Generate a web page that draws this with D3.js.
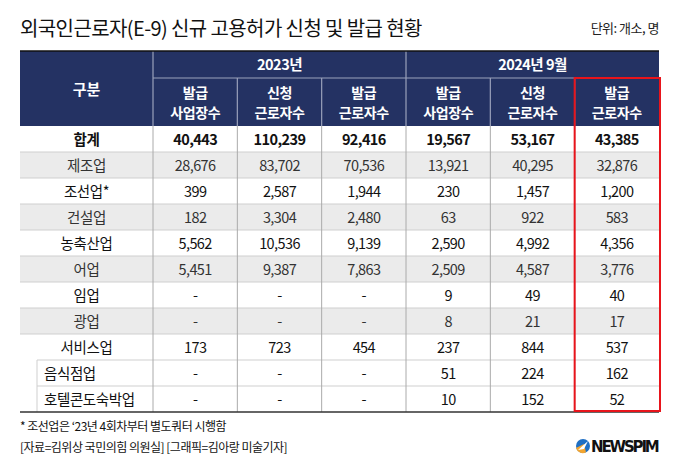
<!DOCTYPE html>
<html><head><meta charset="utf-8">
<script src="https://cdn.jsdelivr.net/npm/d3@7"></script>
<style>
html,body{margin:0;padding:0;background:#fff;}
svg{display:block;font-family:"Noto Sans CJK KR","Noto Sans",sans-serif;}
</style></head>
<body>
<svg id="c" width="680" height="472"></svg>
<script>
const title = "외국인근로자(E-9) 신규 고용허가 신청 및 발급 현황";
const unitLabel = "단위: 개소, 명";
const years = ["2023년", "2024년 9월"];
const subHeaders = [["발급","사업장수"],["신청","근로자수"],["발급","근로자수"],["발급","사업장수"],["신청","근로자수"],["발급","근로자수"]];
const categories = ["합계","제조업","조선업*","건설업","농축산업","어업","임업","광업","서비스업","음식점업","호텔콘도숙박업"];
const issuedSites2023   = [40443, 28676, 399, 182, 5562, 5451, null, null, 173, null, null];
const appliedWorkers2023= [110239, 83702, 2587, 3304, 10536, 9387, null, null, 723, null, null];
const issuedWorkers2023 = [92416, 70536, 1944, 2480, 9139, 7863, null, null, 454, null, null];
const issuedSites2024   = [19567, 13921, 230, 63, 2590, 2509, 9, 8, 237, 51, 10];
const appliedWorkers2024= [53167, 40295, 1457, 922, 4992, 4587, 49, 21, 844, 224, 152];
const issuedWorkers2024 = [43385, 32876, 1200, 583, 4356, 3776, 40, 17, 537, 162, 52];
const subRows = ["음식점업","호텔콘도숙박업"];
const footnotes = ["* 조선업은 ‘23년 4회차부터 별도쿼터 시행함","[자료=김위상 국민의힘 의원실] [그래픽=김아랑 미술기자]"];

const series = [issuedSites2023, appliedWorkers2023, issuedWorkers2023, issuedSites2024, appliedWorkers2024, issuedWorkers2024];
const svg = d3.select("#c");
const navy = "#243263";
const fmt = d3.format(",");

const left = 20, right = 659, firstColR = 153;
const x = d3.scaleLinear().domain([0, series.length]).range([firstColR, right]);
const y = d3.scaleBand().domain(categories).range([126, 412]);

// title
svg.append("text").attr("x", left).attr("y", 36).attr("font-size", 20).attr("fill", "#111").attr("letter-spacing", -0.6).text(title);
svg.append("text").attr("x", right).attr("y", 33).attr("text-anchor","end").attr("font-size", 13).attr("fill", "#222").attr("letter-spacing", -0.5).text(unitLabel);

// header background
svg.append("rect").attr("x", left).attr("y", 51).attr("width", right-left).attr("height", 126-51).attr("fill", navy);
const yearBottom = 78;
// header lines
svg.append("line").attr("x1", firstColR).attr("x2", right).attr("y1", yearBottom).attr("y2", yearBottom).attr("stroke", "#9aa1bb").attr("stroke-width", 1.2);
svg.append("line").attr("x1", firstColR).attr("x2", firstColR).attr("y1", 51).attr("y2", 126).attr("stroke", "#9aa1bb").attr("stroke-width", 1.2);
svg.append("line").attr("x1", x(3)).attr("x2", x(3)).attr("y1", 51).attr("y2", 126).attr("stroke", "#9aa1bb").attr("stroke-width", 1.2);
[1,2,4,5].forEach(i => svg.append("line").attr("x1", x(i)).attr("x2", x(i)).attr("y1", yearBottom).attr("y2", 126).attr("stroke", "#9aa1bb").attr("stroke-width", 1.2));
svg.append("line").attr("x1", left).attr("x2", right).attr("y1", 51).attr("y2", 51).attr("stroke", "#111").attr("stroke-width", 1.5);

// header texts
svg.append("text").attr("x", (left+firstColR)/2).attr("y", 95).attr("text-anchor","middle").attr("font-size", 15).attr("font-weight", 700).attr("fill", "#fff").text("구분");
years.forEach((yr, i) => {
  svg.append("text").attr("x", (x(i*3)+x(i*3+3))/2).attr("y", 70).attr("text-anchor","middle").attr("font-size", 14.5).attr("font-weight", 700).attr("fill", "#fff").attr("letter-spacing", -0.5).text(yr);
});
subHeaders.forEach((h, i) => {
  const cx = (x(i)+x(i+1))/2;
  h.forEach((t, k) => {
    svg.append("text").attr("x", cx).attr("y", 97.5 + k*20.5).attr("text-anchor","middle").attr("font-size", 14).attr("font-weight", 700).attr("fill", "#fff").attr("letter-spacing", -0.4).text(t);
  });
});

// rows
const grayRows = new Set(["제조업","건설업","어업","광업"]);
categories.forEach((c, r) => {
  const y0 = y(c), h = y.bandwidth();
  const isSub = subRows.includes(c);
  svg.append("rect").attr("x", isSub ? 37 : left).attr("y", y0).attr("width", right-(isSub?37:left)).attr("height", h)
    .attr("fill", grayRows.has(c) ? "#ebebeb" : "#fff");
  const bold = c === "합계";
  const txtCol = grayRows.has(c) ? "#333" : "#111";
  svg.append("text").attr("x", isSub ? 44 : (left+firstColR)/2).attr("y", y0 + h/2 + 5.5)
    .attr("text-anchor", isSub ? "start" : "middle").attr("font-size", 14.5).attr("font-weight", bold ? 700 : 400)
    .attr("fill", txtCol).attr("letter-spacing", -0.4).text(c);
  series.forEach((s, i) => {
    const v = s[r];
    svg.append("text").attr("x", (x(i)+x(i+1))/2).attr("y", y0 + h/2 + 5.5).attr("text-anchor","middle")
      .attr("font-size", 14.5).attr("font-weight", bold ? 700 : 400).attr("fill", txtCol).attr("letter-spacing", -0.6)
      .text(v == null ? "-" : fmt(v));
  });
});
// row lines
categories.forEach((c, r) => {
  if (r === 0) return;
  const isSub = subRows.includes(c);
  svg.append("line").attr("x1", isSub ? 37 : left).attr("x2", right).attr("y1", y(c)).attr("y2", y(c)).attr("stroke", "#cfcfcf").attr("stroke-width", 1);
});
svg.append("line").attr("x1", 37).attr("x2", 37).attr("y1", y("음식점업")).attr("y2", 412).attr("stroke", "#cfcfcf").attr("stroke-width", 1);
d3.range(0, series.length).forEach(i => {
  svg.append("line").attr("x1", x(i)).attr("x2", x(i)).attr("y1", 126).attr("y2", 412).attr("stroke", "#aaa").attr("stroke-width", 1);
});
svg.append("line").attr("x1", left).attr("x2", right).attr("y1", 412).attr("y2", 412).attr("stroke", "#333").attr("stroke-width", 1.3);

// red highlight
svg.append("rect").attr("x", x(5)).attr("y", yearBottom).attr("width", right - x(5) + 1).attr("height", 411 - yearBottom)
  .attr("fill", "none").attr("stroke", "#e8141b").attr("stroke-width", 2);

// footnotes
footnotes.forEach((t, i) => {
  svg.append("text").attr("x", left).attr("y", 431 + i*21).attr("font-size", 12).attr("fill", "#111").attr("letter-spacing", -0.5).text(t);
});

// logo
const lg = svg.append("g").attr("transform", "translate(583,446)");
lg.append("circle").attr("r", 7).attr("fill", "#1f6fc4");
lg.append("path").attr("d", "M-7,2 A7,7 0 0 0 3,6.3 L1,-2 Z").attr("fill", "#f2a531");
lg.append("path").attr("d", "M-5,4 L5,-5 L1,3 Z").attr("fill", "#fff");
svg.append("text").attr("x", 591).attr("y", 452).attr("font-family", "'DejaVu Sans', sans-serif").attr("font-size", 15).attr("font-weight", 700).attr("fill", "#111").attr("letter-spacing", -0.8).attr("textLength", 68).text("NEWSPIM");
</script>
</body></html>
